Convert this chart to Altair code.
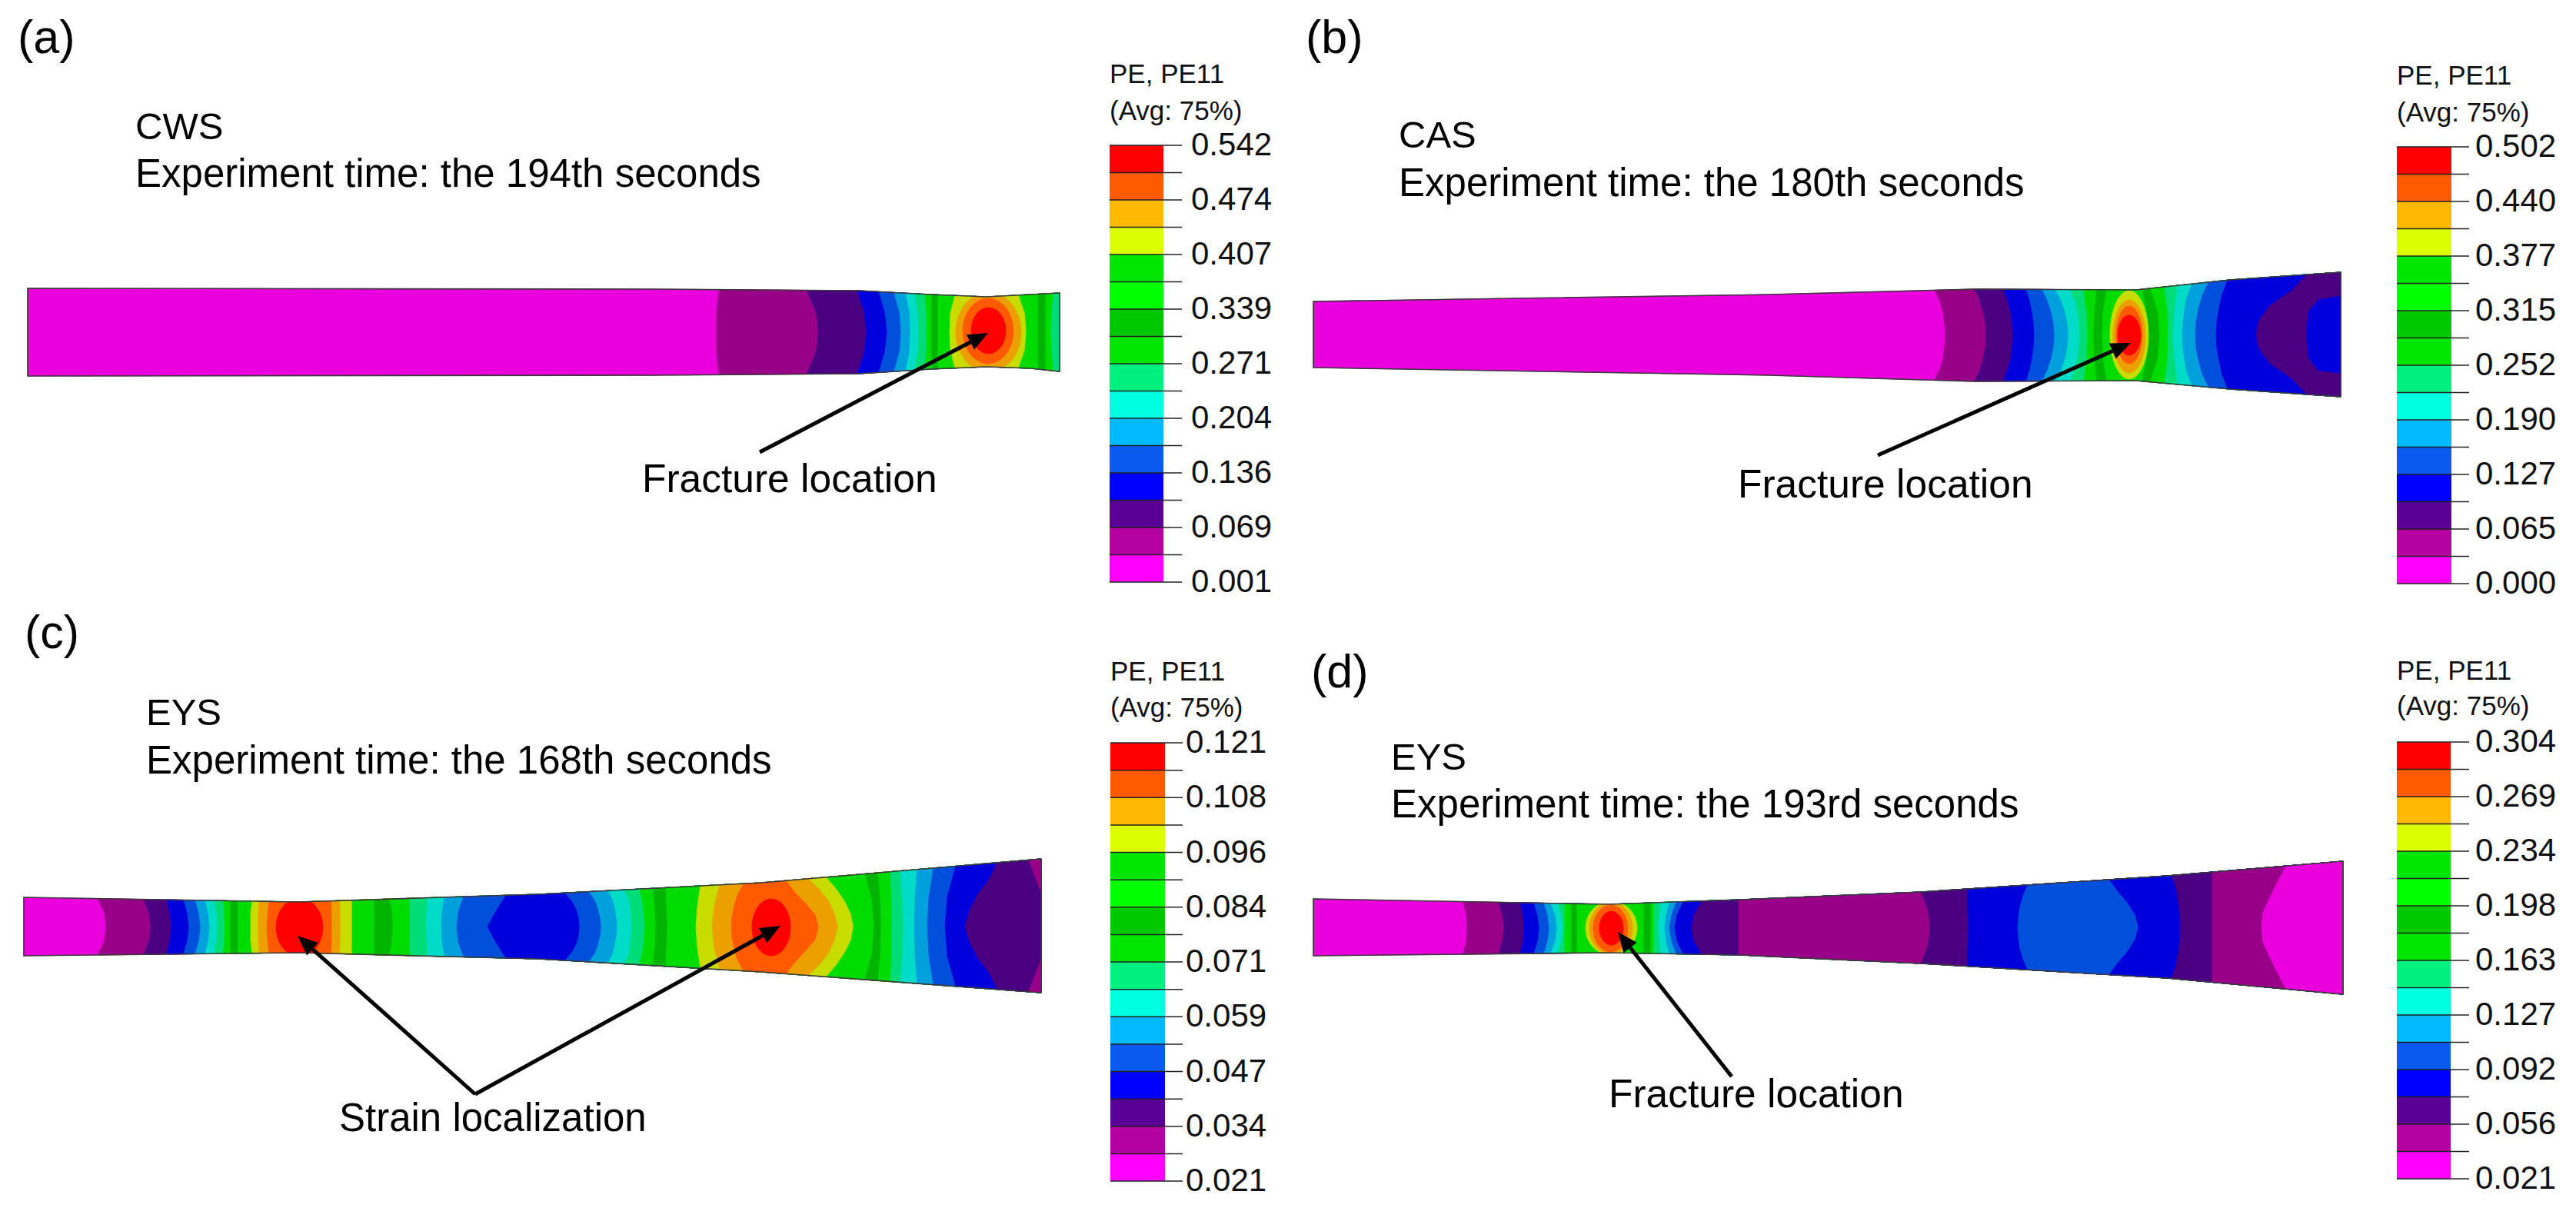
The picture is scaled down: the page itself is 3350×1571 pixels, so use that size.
import math
import numpy as np
import pandas as pd
import altair as alt

alt.data_transformers.disable_max_rows()

W, H = 3334, 1550
FONT = "Liberation Sans"

# Contour colours, lowest strain band first: on the specimen and in the legend bar
SPECIMEN_COLORS = ["#EA00DC", "#990088", "#4B0082", "#0000DC", "#0050DC", "#00A0DC", "#00DCC8", "#00DC78",
                   "#00DC00", "#00B400", "#00DC00", "#00DC00", "#C8DC00", "#EBA000", "#FF5A00", "#FF0000"]
LEGEND_COLORS = ["#FF00FF", "#B400A0", "#5A0096", "#0000FF", "#0A5AF0", "#00B9FF", "#00FFE0", "#00F080",
                 "#00E600", "#00C800", "#00FF00", "#00E600", "#DCFF00", "#FFB900", "#FF5A00", "#FF0000"]

# Specimen outlines: station, upper edge, lower edge
a_x = [36, 850, 1117, 1210, 1283, 1340, 1378]
a_top = [375, 376, 378, 383, 386, 383, 381]
a_bot = [489, 488, 486, 480, 477, 479, 483]
b_x = [1708, 2300, 2568, 2778, 2900, 3044]
b_top = [392, 383, 376, 377, 364, 354]
b_bot = [478, 488, 496, 495, 506, 516]
c_x = [31, 388, 700, 990, 1354]
c_top = [1167, 1173, 1163, 1148, 1117]
c_bot = [1243, 1239, 1247, 1264, 1291]
d_x = [1708, 2092, 2263, 2498, 2818, 3047]
d_top = [1169, 1176, 1170, 1160, 1139, 1120]
d_bot = [1243, 1239, 1242, 1253, 1272, 1293]

# Contour lines: positions read from the edge to mid height (evenly spaced), then band index to the right
a_contours = [(36, 36, 36, 0), (935, 932, 932, 1), (1049, 1061, 1065, 2), (1115, 1124, 1127, 3),
              (1143, 1151, 1154, 4), (1163, 1170, 1172, 5), (1178, 1183, 1184, 6), (1190, 1194, 1195, 7),
              (1203, 1205, 1205, 8), (1212, 1212, 1212, 9), (1220, 1220, 1220, 10), (1242, 1236, 1235, 12),
              (1325, 1333, 1335, 10), (1350, 1350, 1350, 9), (1360, 1360, 1360, 10), (1370, 1368, 1367, 7)]
b_contours = [(1708, 1708, 1708, 0), (2516, 2523, 2527, 2529, 2530, 1), (2568, 2575, 2579, 2582, 2583, 2),
              (2606, 2611, 2615, 2617, 2618, 3), (2635, 2640, 2643, 2645, 2646, 4), (2656, 2663, 2668, 2671, 2672, 5),
              (2673, 2681, 2686, 2689, 2690, 6), (2692, 2699, 2702, 2704, 2705, 7),
              (2710, 2714, 2715, 8), (2727, 2724, 2723, 9), (2740, 2735, 2734, 10), (2786, 2792, 2794, 9),
              (2797, 2806, 2809, 10), (2815, 2819, 2820, 7), (2832, 2828, 2826, 6), (2851, 2844, 2841, 2839, 2838, 5),
              (2872, 2864, 2859, 2856, 2855, 4), (2897, 2890, 2886, 2883, 2882, 3),
              (3000, 2981, 2952, 2938, 2934, 2)]
c_contours = [(31, 31, 31, 0), (127, 136, 138, 1), (187, 194, 196, 2), (217, 221, 223, 3), (239, 244, 246, 4),
              (254, 259, 261, 5), (267, 271, 273, 6), (279, 282, 283, 7), (290, 292, 292, 8), (300, 300, 300, 9),
              (310, 310, 310, 10), (328, 326, 326, 12), (337, 336, 336, 13), (350, 348, 347, 14),
              (431, 432, 432, 13), (442, 443, 443, 12), (458, 458, 458, 10), (487, 487, 487, 9),
              (507, 510, 511, 10), (533, 533, 533, 7), (556, 555, 554, 6), (578, 575, 574, 5),
              (603, 596, 594, 4), (658, 645, 634, 3), (735, 744, 750, 753, 754, 4), (766, 774, 778, 781, 782, 5),
              (791, 797, 800, 802, 803, 6), (812, 818, 820, 821, 822, 7), (832, 837, 839, 8), (849, 852, 853, 9),
              (866, 867, 868, 10), (911, 907, 905, 12), (936, 929, 926, 13), (967, 959, 955, 952, 951, 14),
              (1023, 1034, 1048, 1061, 1065, 13), (1052, 1067, 1079, 1086, 1090, 12),
              (1075, 1088, 1099, 1107, 1110, 10), (1125, 1134, 1137, 9),
              (1142, 1145, 1146, 10), (1158, 1160, 1160, 7), (1171, 1174, 1175, 6), (1193, 1190, 1189, 5),
              (1214, 1208, 1206, 4), (1243, 1232, 1229, 3), (1297, 1287, 1271, 1261, 1255, 2), (1338, 1356, 1420, 1)]
d_contours = [(1708, 1708, 1708, 0), (1903, 1907, 1908, 1), (1949, 1954, 1956, 2), (1977, 1981, 1982, 3),
              (1995, 2000, 2002, 4), (2008, 2013, 2015, 5), (2017, 2023, 2025, 6), (2026, 2031, 2033, 7),
              (2035, 2035, 2035, 8), (2044, 2044, 2044, 9), (2051, 2051, 2051, 10), (2138, 2138, 2138, 9),
              (2147, 2147, 2147, 10), (2151, 2151, 2151, 7), (2160, 2158, 2157, 6), (2171, 2167, 2165, 5),
              (2180, 2174, 2171, 4), (2189, 2181, 2178, 3), (2214, 2203, 2200, 2), (2261, 2261, 2261, 1),
              (2498, 2503, 2507, 2509, 2510, 2), (2559, 2559, 2560, 3), (2637, 2631, 2627, 2625, 2624, 4),
              (2743, 2754, 2767, 2777, 2781, 3), (2824, 2830, 2833, 2835, 2836, 2), (2877, 2877, 2877, 1),
              (2973, 2962, 2952, 2943, 2941, 0)]

# Closed contours: left, right, upper, lower, band index
a_spots = [(1243, 1328, 380, 484, 13), (1252, 1318, 388, 473, 14), (1263, 1308, 400, 460, 15)]
b_spots = [(2744, 2794, 378, 493, 12), (2748, 2790, 390, 485, 13),
           (2752, 2786, 398, 473, 14), (2754, 2784, 410, 462, 15)]
c_spots = [(359, 420, 1168, 1244, 15), (978, 1028, 1169, 1243, 15)]
d_spots = [(2062, 2129, 1172, 1242, 12), (2067, 2123, 1173, 1241, 13), (2072, 2117, 1177, 1238, 14),
           (2080, 2111, 1185, 1229, 15)]

# Blue zone at the grip end of specimen (b): along the contour, then band index
b_grip_x = [3044, 3015, 3002, 3000, 3002, 3015, 3044]
b_grip_y = [385, 390, 405, 435, 465, 482, 485]
b_grip_band = 3

# Legends
a_labels = ["0.542", "0.474", "0.407", "0.339", "0.271", "0.204", "0.136", "0.069", "0.001"]
b_labels = ["0.502", "0.440", "0.377", "0.315", "0.252", "0.190", "0.127", "0.065", "0.000"]
c_labels = ["0.121", "0.108", "0.096", "0.084", "0.071", "0.059", "0.047", "0.034", "0.021"]
d_labels = ["0.304", "0.269", "0.234", "0.198", "0.163", "0.127", "0.092", "0.056", "0.021"]
# bar left, bar right, bar top, bar bottom, tick end, label x, header baselines
a_bar = (1443, 1513, 189, 757, 1537, 1549, 108, 156)
b_bar = (3117, 3188, 191, 759, 3211, 3219, 110, 158)
c_bar = (1444, 1515, 966, 1536, 1538, 1542, 885, 932)
d_bar = (3117, 3187, 965, 1533, 3211, 3219, 884, 930)

# Text: string, x, baseline, size
texts = [("(a)", 23, 69, 61), ("CWS", 176, 181, 49), ("Experiment time: the 194th seconds", 176, 243, 51),
         ("Fracture location", 835, 640, 51.5),
         ("(b)", 1698, 69, 61), ("CAS", 1819, 192, 49), ("Experiment time: the 180th seconds", 1819, 255, 51),
         ("Fracture location", 2260, 647, 51.5),
         ("(c)", 32, 843, 61), ("EYS", 190, 943, 49), ("Experiment time: the 168th seconds", 190, 1006, 51),
         ("Strain localization", 441, 1471, 51),
         ("(d)", 1705, 894, 61), ("EYS", 1809, 1001, 49), ("Experiment time: the 193rd seconds", 1809, 1063, 51),
         ("Fracture location", 2092, 1440, 51.5)]

# Arrows: tail x, tail y, tip x, tip y
arrows = [(988, 588, 1285, 433), (2442, 592, 2771, 446), (618, 1423, 387, 1217), (618, 1423, 1015, 1204),
          (2252, 1400, 2104, 1212)]

X_SCALE = alt.Scale(domain=[8, 8 + W], nice=False, zero=False)
Y_SCALE = alt.Scale(domain=[8 + H, 8], nice=False, zero=False)
ex = alt.X("x:Q", scale=X_SCALE, axis=None)
ey = alt.Y("y:Q", scale=Y_SCALE, axis=None)

polys = []
outlines = []
pid = 0


def add_poly(points, color):
    global pid
    for i, (x, y) in enumerate(points):
        polys.append({"x": float(x), "y": float(y), "i": i, "p": pid, "c": color})
    pid += 1


def specimen(sx, top, bot, contours, spots, extra=None):
    x_end = sx[-1]
    t_at = lambda x: float(np.interp(x, sx, top))
    b_at = lambda x: float(np.interp(x, sx, bot))
    for contour in contours:
        vals, band = contour[:-1], contour[-1]
        n = len(vals) - 1
        half = [(v, 1 - k / n) for k, v in enumerate(vals)]
        line = [(v, -t) for v, t in half] + [(v, t) for v, t in reversed(half[:-1])]
        edge = vals[0]
        pts = []
        for x, t in line:
            x = min(x, x_end)
            c, h = (t_at(x) + b_at(x)) / 2, (b_at(x) - t_at(x)) / 2
            pts.append((x, c + t * h))
        pts += [(x, bot[i]) for i, x in enumerate(sx) if x > edge]
        pts += [(x, top[i]) for i, x in reversed(list(enumerate(sx))) if x > edge]
        add_poly(pts, SPECIMEN_COLORS[band])
    if extra:
        add_poly(extra[0], SPECIMEN_COLORS[extra[1]])
    for left, right, up, low, band in spots:
        cx, cy, rx, ry = (left + right) / 2, (up + low) / 2, (right - left) / 2, (low - up) / 2
        pts = []
        for k in range(40):
            ang = 2 * math.pi * k / 40
            x = min(cx + rx * math.cos(ang), x_end)
            y = min(max(cy + ry * math.sin(ang), t_at(x)), b_at(x))
            pts.append((x, y))
        add_poly(pts, SPECIMEN_COLORS[band])
    n = len(outlines) and outlines[-1]["p"] + 1
    ring = list(zip(sx, top)) + list(zip(reversed(sx), reversed(bot)))
    for i, (x, y) in enumerate(ring):
        outlines.append({"x": x, "y": y, "i": i, "p": n})


specimen(a_x, a_top, a_bot, a_contours, a_spots)
specimen(b_x, b_top, b_bot, b_contours, b_spots, (list(zip(b_grip_x, b_grip_y)), b_grip_band))
specimen(c_x, c_top, c_bot, c_contours, c_spots)
specimen(d_x, d_top, d_bot, d_contours, d_spots)

cells, ticks, tick_labels, headers = [], [], [], []
for bar, labels in [(a_bar, a_labels), (b_bar, b_labels), (c_bar, c_labels), (d_bar, d_labels)]:
    left, right, up, low, tick_end, label_x, h1, h2 = bar
    step = (low - up) / 16
    for k in range(16):
        cells.append({"x": left, "x2": right, "y": up + k * step, "y2": up + (k + 1) * step,
                      "c": LEGEND_COLORS[15 - k]})
    for k in range(17):
        ticks.append({"x": left, "x2": tick_end, "y": up + k * step})
    for k, lab in enumerate(labels):
        tick_labels.append({"x": label_x, "y": up + 2 * k * step, "t": lab})
    headers.append({"x": left, "y": h1, "t": "PE, PE11"})
    headers.append({"x": left, "y": h2, "t": "(Avg: 75%)"})

shafts, heads = [], []
HEAD_LEN, HEAD_HALF = 26, 11
for ax0, ay0, ax1, ay1 in arrows:
    L = math.hypot(ax1 - ax0, ay1 - ay0)
    ux, uy = (ax1 - ax0) / L, (ay1 - ay0) / L
    bx, by = ax1 - HEAD_LEN * ux, ay1 - HEAD_LEN * uy
    shafts.append({"x": ax0, "y": ay0, "x2": bx, "y2": by})
    tri = [(ax1, ay1), (bx - HEAD_HALF * uy, by + HEAD_HALF * ux), (bx + HEAD_HALF * uy, by - HEAD_HALF * ux)]
    heads += [{"x": x, "y": y, "i": i, "p": len(heads) // 3} for i, (x, y) in enumerate(tri)]

poly_layer = alt.Chart(pd.DataFrame(polys)).mark_line(interpolate="linear-closed", filled=True, strokeWidth=0.8).encode(
    x=ex, y=ey, order=alt.Order("i:Q"), detail="p:N",
    color=alt.Color("c:N", scale=None), stroke=alt.Stroke("c:N", scale=None))
outline_layer = alt.Chart(pd.DataFrame(outlines)).mark_line(interpolate="linear-closed", color="#3a3a3a", strokeWidth=1.6).encode(
    x=ex, y=ey, order=alt.Order("i:Q"), detail="p:N")
cell_layer = alt.Chart(pd.DataFrame(cells)).mark_rect().encode(
    x=ex, y=ey, x2="x2:Q", y2="y2:Q", color=alt.Color("c:N", scale=None))
tick_layer = alt.Chart(pd.DataFrame(ticks)).mark_rule(color="#222222", strokeWidth=1.5).encode(x=ex, x2="x2:Q", y=ey)
label_layer = alt.Chart(pd.DataFrame(tick_labels)).mark_text(
    font=FONT, fontSize=42, align="left", baseline="middle", color="#111111").encode(x=ex, y=ey, text="t:N")
header_layer = alt.Chart(pd.DataFrame(headers)).mark_text(
    font=FONT, fontSize=35, align="left", baseline="alphabetic", color="#111111").encode(x=ex, y=ey, text="t:N")
text_layer = alt.Chart(pd.DataFrame([{"t": t, "x": x, "y": y, "s": s} for t, x, y, s in texts])).mark_text(
    font=FONT, align="left", baseline="alphabetic", color="#000000").encode(
    x=ex, y=ey, text="t:N", size=alt.Size("s:Q", scale=None))
shaft_layer = alt.Chart(pd.DataFrame(shafts)).mark_rule(color="#000000", strokeWidth=5).encode(
    x=ex, y=ey, x2="x2:Q", y2="y2:Q")
head_layer = alt.Chart(pd.DataFrame(heads)).mark_line(interpolate="linear-closed", filled=True, color="#000000").encode(
    x=ex, y=ey, order=alt.Order("i:Q"), detail="p:N")

chart = alt.layer(poly_layer, outline_layer, cell_layer, tick_layer, label_layer, header_layer, text_layer,
                  shaft_layer, head_layer).properties(
    width=W, height=H, padding=0, autosize=alt.AutoSizeParams(type="none"),
    background="#FFFFFF").configure_view(stroke=None)

chart.save("out.html", embed_options={"renderer": "svg", "actions": False})
